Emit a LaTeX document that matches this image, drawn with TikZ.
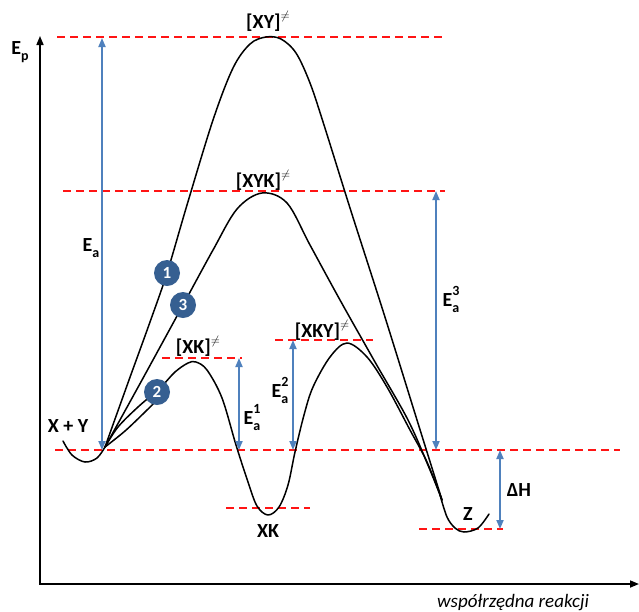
\documentclass[tikz,border=0pt]{standalone}
\usepackage{fontspec}
\setmainfont{Carlito}
\usetikzlibrary{arrows.meta}
\definecolor{dashred}{RGB}{255,20,20}
\definecolor{arrblue}{RGB}{79,129,189}
\definecolor{circblue}{RGB}{54,95,145}
\newcommand\ESS[2]{E\makebox[0pt][l]{\raisebox{0.55em}{\fontsize{14}{14}\selectfont #2}}\raisebox{-0.3em}{\fontsize{14}{14}\selectfont #1}}
\newcommand\TS{\raisebox{0.45em}{\fontsize{12}{12}\selectfont$\neq$}}
\begin{document}
\begin{tikzpicture}[x=1pt,y=-1pt,
  refline/.style={dashred, line width=1.6pt, dash pattern=on 8pt off 5pt},
  curve/.style={black, line width=1.5pt, line join=round, line cap=round},
  eaarrow/.style={arrblue, line width=1.8pt, {Triangle[length=9pt,width=7pt]}-{Triangle[length=9pt,width=7pt]}},
  lab/.style={font=\fontsize{20}{20}\selectfont\bfseries, inner sep=0pt},
  num/.style={circle, fill=circblue, minimum size=26pt, inner sep=0pt, text=white, font=\fontsize{17}{17}\selectfont\bfseries},
  axisline/.style={line width=1.6pt, -{Triangle[length=9pt,width=7pt]}}]
\useasboundingbox (0,0) rectangle (639,611);
\fill[white] (0,0) rectangle (639,611);
% axes
\coordinate (O) at (40,584);
\coordinate (Ytop) at (40,36);
\coordinate (Xend) at (639,584);
\draw[axisline] (O) -- (Ytop);
\draw[axisline] ([xshift=-0.8pt]O) -- (Xend);
% reference dashed lines
\draw[refline] (57,37) -- (443,37);
\draw[refline] (63,191) -- (445,191);
\draw[refline] (162,358) -- (242,358);
\draw[refline] (275,340) -- (373,340);
\draw[refline] (55,450) -- (620,450);
\draw[refline] (226,508) -- (310,508);
\draw[refline] (419,529) -- (503,529);
% curves
\draw[curve] plot[smooth, tension=0.55] coordinates {(63,441) (72,455) (85,462) (97,458) (105,447)};
\draw[curve] plot[smooth, tension=0.55] coordinates {(105,447) (129,380) (150,322) (167,273) (187,205) (213,120) (233,68) (250,44) (266,37) (281,39) (296,53) (310,83) (324,125) (350,208) (384,314) (417,420) (432,468) (442,500)};
\draw[curve] plot[smooth, tension=0.55] coordinates {(105,447) (142,380) (183,305) (213,250) (237,209) (262,193) (287,203) (310,245) (340,300) (375,362) (408,420) (430,470) (442,500)};
\draw[curve] plot[smooth, tension=0.55] coordinates {(105,447) (118,427) (138,407) (160,388) (175,372) (188,363) (196,362) (207,370) (222,398) (236,445) (248,482) (257,506) (268,515) (279,507) (288,485) (295,452) (304,415) (313,387) (330,357) (347,343) (367,357) (387,387) (410,430) (427,462) (442,500)};
\draw[curve] plot[smooth, tension=0.55] coordinates {(105,447) (125,431) (145,412) (155,402)};
\draw[curve] plot[smooth, tension=0.55] coordinates {(440,495) (447,517) (455,528) (464,532) (478,528) (489,514)};
% numbered circles
\node[num] (c1) at (167,273) {1};
\node[num] (c3) at (183,305) {3};
\node[num] (c2) at (157,392) {2};
% activation arrows
\coordinate (a1t) at (102,38); \coordinate (a1b) at (102,450);
\coordinate (a3t) at (436,191); \coordinate (a3b) at (436,450);
\coordinate (e1t) at (239,358); \coordinate (e1b) at (239,450);
\coordinate (e2t) at (293,340); \coordinate (e2b) at (293,450);
\coordinate (ht) at (500,450); \coordinate (hb) at (500,529);
\draw[eaarrow] (a1t) -- (a1b);
\draw[eaarrow] (a3t) -- (a3b);
\draw[eaarrow] (e1t) -- (e1b);
\draw[eaarrow] (e2t) -- (e2b);
\draw[eaarrow] (ht) -- (hb);
% labels
\node[lab] (lep) at (20,52) {E\raisebox{-0.3em}{\fontsize{14}{14}\selectfont p}};
\node[lab] (lxy) at (268,21) {[XY]\TS};
\node[lab] (lxyk) at (263,180) {[XYK]\TS};
\node[lab] (lxk) at (198,346) {[XK]\TS};
\node[lab] (lxky) at (322,330) {[XKY]\TS};
\node[lab] (lx) at (68,426) {X + Y};
\node[lab] (lxkm) at (268,531) {XK};
\node[lab] (lz) at (468,514) {Z};
\node[lab] (lea) at (91,248) {E\raisebox{-0.3em}{\fontsize{14}{14}\selectfont a}};
\node[lab] (lea3) at (451,299) {\ESS{a}{3}};
\node[lab] (lea1) at (252,417) {\ESS{a}{1}};
\node[lab] (lea2) at (280,390) {\ESS{a}{2}};
\node[lab] (ldh) at (519,490) {ΔH};
\node[inner sep=0pt, anchor=base, font=\fontsize{19}{19}\selectfont\itshape] (lrc) at (513,607) {współrzędna reakcji};
\end{tikzpicture}
\end{document}
